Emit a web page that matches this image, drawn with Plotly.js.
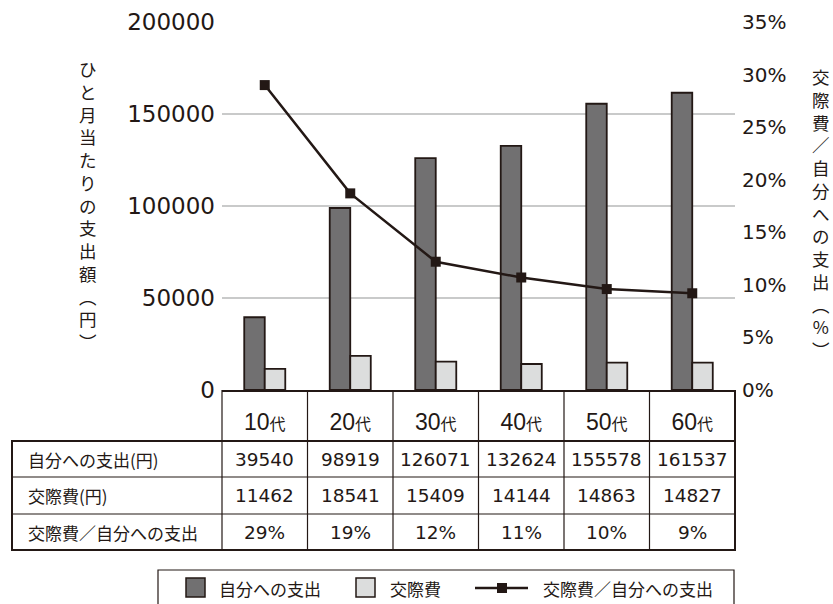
<!DOCTYPE html>
<html>
<head>
<meta charset="utf-8">
<script src="https://cdn.plot.ly/plotly-3.0.1.min.js"></script>
<style>
  html, body { margin: 0; padding: 0; background: #ffffff; }
  #chart { width: 833px; height: 604px; }
</style>
</head>
<body>
<div id="chart"></div>
<script>
// Age groups and monthly spending data
const categories = ['10代', '20代', '30代', '40代', '50代', '60代'];
const ownSpending = [39540, 98919, 126071, 132624, 155578, 161537];
const socialSpending = [11462, 18541, 15409, 14144, 14863, 14827];
const socialRatio = [0.29, 0.187, 0.122, 0.107, 0.096, 0.092];
const ratioLabels = ['29%', '19%', '12%', '11%', '10%', '9%'];

const seriesNames = ['自分への支出', '交際費', '交際費／自分への支出'];
const rowLabels = ['自分への支出(円)', '交際費(円)', '交際費／自分への支出'];
const leftTitle = 'ひと月当たりの支出額︵円︶';
const rightTitle = '交際費／自分への支出︵%︶';
const leftTicks = [0, 50000, 100000, 150000, 200000];
const rightTicks = [0, 0.05, 0.10, 0.15, 0.20, 0.25, 0.30, 0.35];

// Page geometry
const W = 833, H = 604;
const M = { l: 222, r: 98, t: 22, b: 214 };
const plotW = W - M.l - M.r, plotH = H - M.t - M.b;
const px = x => (x - M.l) / plotW;          // pixel x -> paper x
const py = y => (H - M.b - y) / plotH;      // pixel y -> paper y

const INK = '#231815';
const DARK = '#717071';
const LIGHT = '#dcdddd';
const GRID = '#c9caca';
const NUM_FONT = 'DejaVu Sans, Noto Sans CJK JP, sans-serif';
const CAT_FONT = 'Liberation Sans, Noto Sans CJK JP, sans-serif';
const JP_FONT = 'Noto Sans CJK JP, sans-serif';

const traces = [
  {
    type: 'bar', name: seriesNames[0], x: categories, y: ownSpending,
    marker: { color: DARK, line: { color: INK, width: 1.8 } },
    showlegend: false, hoverinfo: 'skip'
  },
  {
    type: 'bar', name: seriesNames[1], x: categories, y: socialSpending,
    marker: { color: LIGHT, line: { color: INK, width: 1.8 } },
    showlegend: false, hoverinfo: 'skip'
  },
  {
    type: 'scatter', mode: 'lines+markers', name: seriesNames[2],
    x: categories, y: socialRatio, yaxis: 'y2',
    line: { color: INK, width: 2.5 },
    marker: { symbol: 'square', size: 10, color: INK },
    showlegend: false, hoverinfo: 'skip'
  }
];

const shapes = [];
const annotations = [];

// Table grid below the plot
const tblLeft = px(12), tblRight = 1;
const rowTop = py(441), rowLines = [py(477), py(514)], tblBottom = py(550);
shapes.push({ type: 'rect', xref: 'paper', yref: 'paper', x0: tblLeft, x1: tblRight,
  y0: tblBottom, y1: rowTop, line: { color: INK, width: 2 } });
rowLines.forEach(y => shapes.push({ type: 'line', xref: 'paper', yref: 'paper',
  x0: tblLeft, x1: tblRight, y0: y, y1: y, line: { color: INK, width: 1.2 } }));
for (let i = 0; i <= categories.length; i++) {
  const xb = i / categories.length;
  shapes.push({ type: 'line', xref: 'paper', yref: 'paper', x0: xb, x1: xb,
    y0: tblBottom, y1: 0, line: { color: INK, width: (i === categories.length) ? 2 : 1.2 } });
}

// Table row labels and values
const rowCenters = [py(459), py(495.5), py(532)];
const rowValues = [ownSpending.map(String), socialSpending.map(String), ratioLabels];
rowLabels.forEach((t, r) => {
  annotations.push({ xref: 'paper', yref: 'paper', x: px(26), y: rowCenters[r],
    xanchor: 'left', yanchor: 'middle', text: t, showarrow: false,
    font: { family: JP_FONT, size: 17, color: INK } });
  rowValues[r].forEach((v, i) => {
    annotations.push({ xref: 'x', yref: 'paper', x: categories[i], y: rowCenters[r],
      xanchor: 'center', yanchor: 'middle', text: v, showarrow: false,
      font: { family: NUM_FONT, size: 18.5, color: INK } });
  });
});

// Vertical axis titles: upright characters stacked one per line
function verticalTitle(text, xPix, yMid) {
  annotations.push({ xref: 'paper', yref: 'paper', x: px(xPix), y: py(yMid),
    xanchor: 'center', yanchor: 'middle', align: 'center',
    text: Array.from(text).join('<br>'), showarrow: false,
    font: { family: JP_FONT, size: 17.5, color: INK } });
}
verticalTitle(leftTitle, 88, 205);
verticalTitle(rightTitle, 821, 213);

// Legend box
const legTop = py(570), legBottom = py(612), legMid = py(588);
shapes.push({ type: 'rect', xref: 'paper', yref: 'paper', x0: px(158), x1: px(734),
  y0: legBottom, y1: legTop, line: { color: INK, width: 1.2 } });
shapes.push({ type: 'rect', xref: 'paper', yref: 'paper', x0: px(186), x1: px(205),
  y0: py(597), y1: py(578), fillcolor: DARK, line: { color: INK, width: 1.5 } });
shapes.push({ type: 'rect', xref: 'paper', yref: 'paper', x0: px(356), x1: px(375),
  y0: py(597), y1: py(578), fillcolor: LIGHT, line: { color: INK, width: 1.5 } });
shapes.push({ type: 'line', xref: 'paper', yref: 'paper', x0: px(475), x1: px(528),
  y0: legMid, y1: legMid, line: { color: INK, width: 2.5 } });
shapes.push({ type: 'rect', xref: 'paper', yref: 'paper', x0: px(497), x1: px(507),
  y0: py(593), y1: py(583), fillcolor: INK, line: { color: INK, width: 0 } });
[[217, seriesNames[0]], [388, seriesNames[1]], [541, seriesNames[2]]].forEach(([x, t]) => {
  annotations.push({ xref: 'paper', yref: 'paper', x: px(x), y: legMid,
    xanchor: 'left', yanchor: 'middle', text: t, showarrow: false,
    font: { family: JP_FONT, size: 17, color: INK } });
});

const layout = {
  width: W, height: H,
  margin: M,
  paper_bgcolor: '#ffffff', plot_bgcolor: '#ffffff',
  barmode: 'group', bargap: 0.52, bargroupgap: 0,
  showlegend: false,
  xaxis: {
    type: 'category', range: [-0.5, categories.length - 0.5],
    showline: true, linecolor: INK, linewidth: 1.5, showgrid: false,
    ticks: '', ticklabelstandoff: 11,
    tickvals: categories,
    ticktext: categories.map(c => c.slice(0, -1) + '<span style="font-size:16px">' + c.slice(-1) + '</span>'),
    tickfont: { family: CAT_FONT, size: 23, color: INK },
    automargin: false, fixedrange: true
  },
  yaxis: {
    range: [0, 200000], tickvals: leftTicks, ticktext: leftTicks.map(String),
    showgrid: true, gridcolor: GRID, gridwidth: 1.5, zeroline: false, showline: false,
    ticks: '', ticklabelstandoff: 6,
    tickfont: { family: NUM_FONT, size: 23, color: INK },
    automargin: false, fixedrange: true
  },
  yaxis2: {
    overlaying: 'y', side: 'right', range: [0, 0.35],
    tickvals: rightTicks, tickformat: '.0%',
    showgrid: false, zeroline: false, showline: false,
    ticks: '', ticklabelstandoff: 6,
    tickfont: { family: NUM_FONT, size: 20, color: INK },
    automargin: false, fixedrange: true
  },
  shapes: shapes,
  annotations: annotations
};

Plotly.newPlot('chart', traces, layout, { staticPlot: true, displayModeBar: false });
</script>
</body>
</html>
